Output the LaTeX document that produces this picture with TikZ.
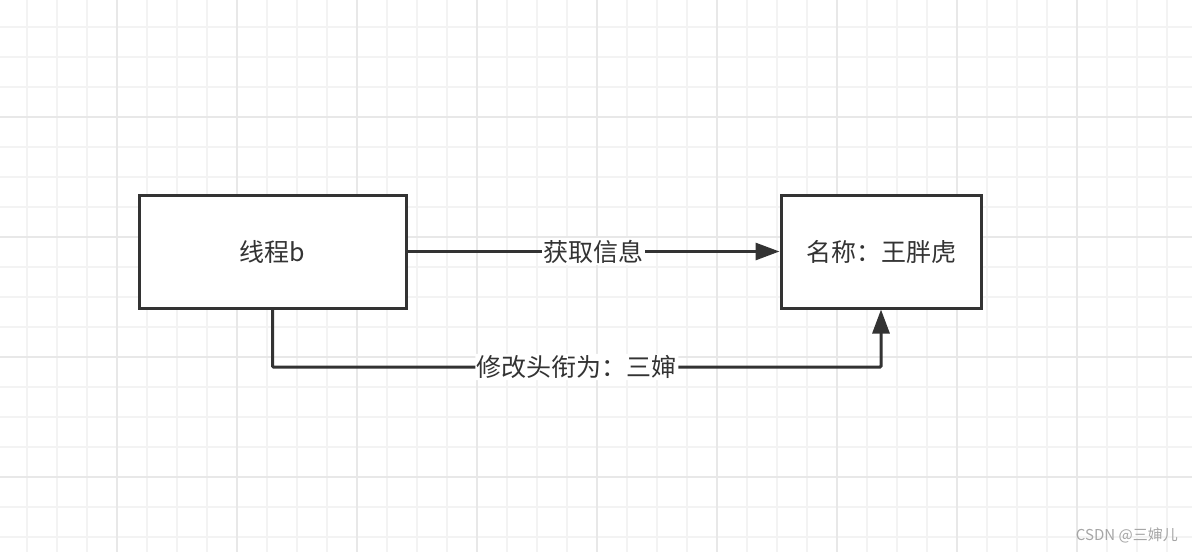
\documentclass[tikz,border=0pt]{standalone}
\usepackage{fontspec}
\setmainfont{Noto Sans CJK SC}
\usetikzlibrary{arrows.meta}
\definecolor{ink}{HTML}{333333}
\definecolor{gminor}{HTML}{F3F3F3}
\definecolor{gmajor}{HTML}{E8E8E8}
\tikzset{
  box/.style={draw=ink, line width=3pt, fill=white, minimum width=267pt, minimum height=113pt, inner sep=0pt, font=\fontsize{25}{30}\selectfont, text=ink},
  conn/.style={draw=ink, line width=3pt, -{Triangle[length=24pt,width=17pt]}},
  lbl/.style={fill=white, text=ink, inner sep=1.5pt, font=\fontsize{25}{30}\selectfont},
}
\begin{document}
\begin{tikzpicture}[x=1pt,y=-1pt]
\useasboundingbox (0,0) rectangle (1192,552);
\fill[white] (0,0) rectangle (1192,552);
% grid
\foreach \i in {0,...,39} {
  \pgfmathsetmacro{\xx}{27+30*\i}
  \draw[gminor, line width=1.3pt] (\xx,0) -- (\xx,552);
}
\foreach \i in {0,...,18} {
  \pgfmathsetmacro{\yy}{27+30*\i}
  \draw[gminor, line width=1.3pt] (0,\yy) -- (1192,\yy);
}
\foreach \i in {0,...,9} {
  \pgfmathsetmacro{\xx}{117+120*\i}
  \draw[gmajor, line width=2pt] (\xx,0) -- (\xx,552);
}
\foreach \i in {0,...,4} {
  \pgfmathsetmacro{\yy}{117+120*\i}
  \draw[gmajor, line width=2pt] (0,\yy) -- (1192,\yy);
}
% nodes
\node[box] (b1) at (272.5,251.5) {线程b};
\node[box, minimum width=200pt] (b2) at (881,251.5) {名称：王胖虎};
\coordinate (turn) at (0,367);
% connectors
\draw[conn] (b1.east) -- node[lbl]{获取信息} (b2.west);
\draw[conn, rounded corners=1pt] (b1.south) -- (b1.south |- turn) -- node[lbl]{修改头衔为：三婶} (b2.south |- turn) -- (b2.south);
% watermark
\node[anchor=east, text=gray!70, font=\fontsize{15}{17}\selectfont, inner sep=0pt] (wm) at (1178,535) {CSDN @三婶儿};
\end{tikzpicture}
\end{document}
